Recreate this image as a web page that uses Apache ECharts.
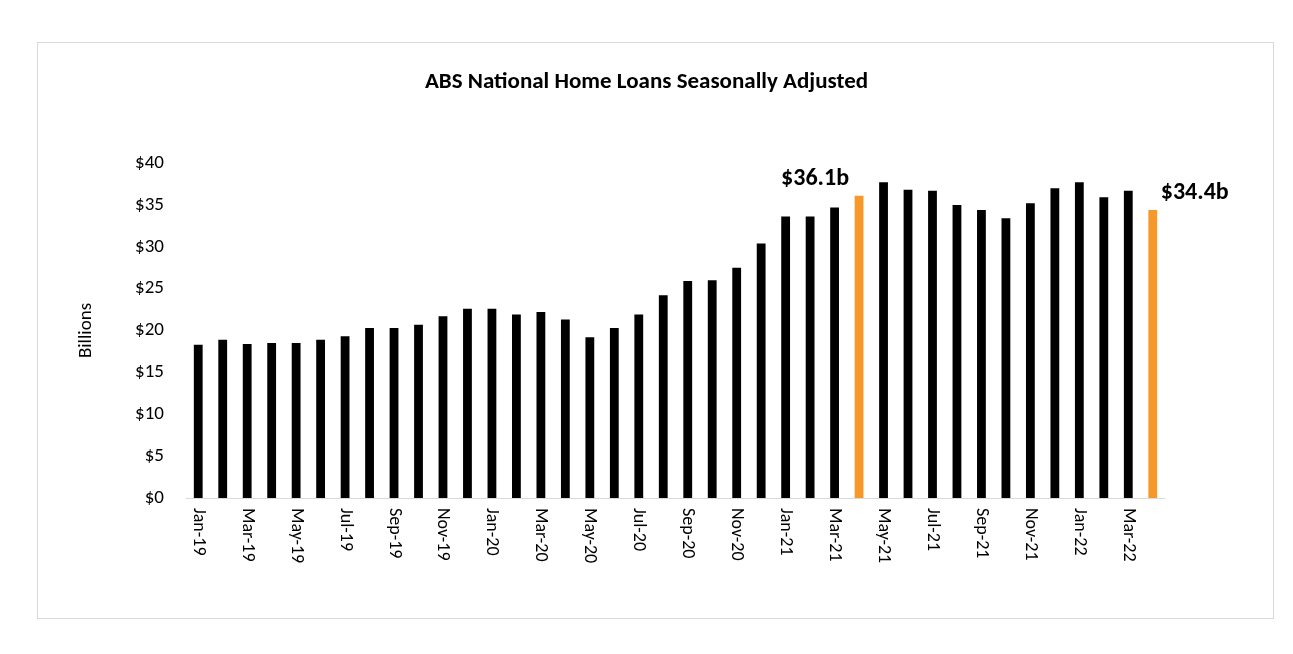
<!DOCTYPE html>
<html><head><meta charset="utf-8">
<script src="https://cdn.jsdelivr.net/npm/echarts@6/dist/echarts.min.js"></script>
<style>html,body{margin:0;padding:0;background:#fff}#c{width:1293px;height:654px}
#box{position:absolute;left:37px;top:42px;width:1235px;height:575px;border:1px solid #d9d9d9}</style>
</head><body><div id="box"></div><div id="c"></div>
<script>
const categories = ["Jan-19","Feb-19","Mar-19","Apr-19","May-19","Jun-19","Jul-19","Aug-19","Sep-19","Oct-19","Nov-19","Dec-19",
"Jan-20","Feb-20","Mar-20","Apr-20","May-20","Jun-20","Jul-20","Aug-20","Sep-20","Oct-20","Nov-20","Dec-20",
"Jan-21","Feb-21","Mar-21","Apr-21","May-21","Jun-21","Jul-21","Aug-21","Sep-21","Oct-21","Nov-21","Dec-21",
"Jan-22","Feb-22","Mar-22","Apr-22"];
const values = [18.3,18.9,18.4,18.5,18.5,18.9,19.3,20.3,20.3,20.7,21.7,22.6,
22.6,21.9,22.2,21.3,19.2,20.3,21.9,24.2,25.9,26.0,27.5,30.4,
33.6,33.6,34.7,36.1,37.7,36.8,36.7,35.0,34.4,33.4,35.2,37.0,
37.7,35.9,36.7,34.4];
const highlighted = {"Apr-21":"$36.1b","Apr-22":"$34.4b"};
const labelShift = {"Apr-21":-44,"Apr-22":42};
const font = "Carlito, 'Open Sans', 'Liberation Sans', sans-serif";
const chart = echarts.init(document.getElementById('c'));
chart.setOption({
  animation:false,
  title:{text:"ABS National Home Loans Seasonally Adjusted",left:'center',top:66,
    textStyle:{fontFamily:font,fontSize:23,fontWeight:'bold',color:'#000'}},
  grid:{left:186,right:128,top:163,bottom:156},
  xAxis:{type:'category',data:categories,
    axisLine:{lineStyle:{color:'#d9d9d9'}},axisTick:{show:false},
    axisLabel:{rotate:-90,interval:1,fontFamily:font,fontSize:18,color:'#000',margin:10}},
  yAxis:{type:'value',min:0,max:40,interval:5,name:'Billions',nameLocation:'middle',nameGap:90,
    nameTextStyle:{fontFamily:font,fontSize:19,color:'#000'},
    splitLine:{show:false},axisLine:{show:false},axisTick:{show:false},
    axisLabel:{formatter:v=>'$'+v,fontFamily:font,fontSize:19,color:'#000',margin:22}},
  series:[{type:'bar',barWidth:'36%',
    data:values.map((v,i)=>{const c=categories[i],h=highlighted[c];
      return h?{value:v,itemStyle:{color:'#f7992a'},label:{show:true,position:'top',formatter:h,
        fontFamily:font,fontSize:24,fontWeight:'bold',color:'#000',offset:[labelShift[c],0]}}:{value:v,itemStyle:{color:'#000'}};})
  }]
});
</script></body></html>
